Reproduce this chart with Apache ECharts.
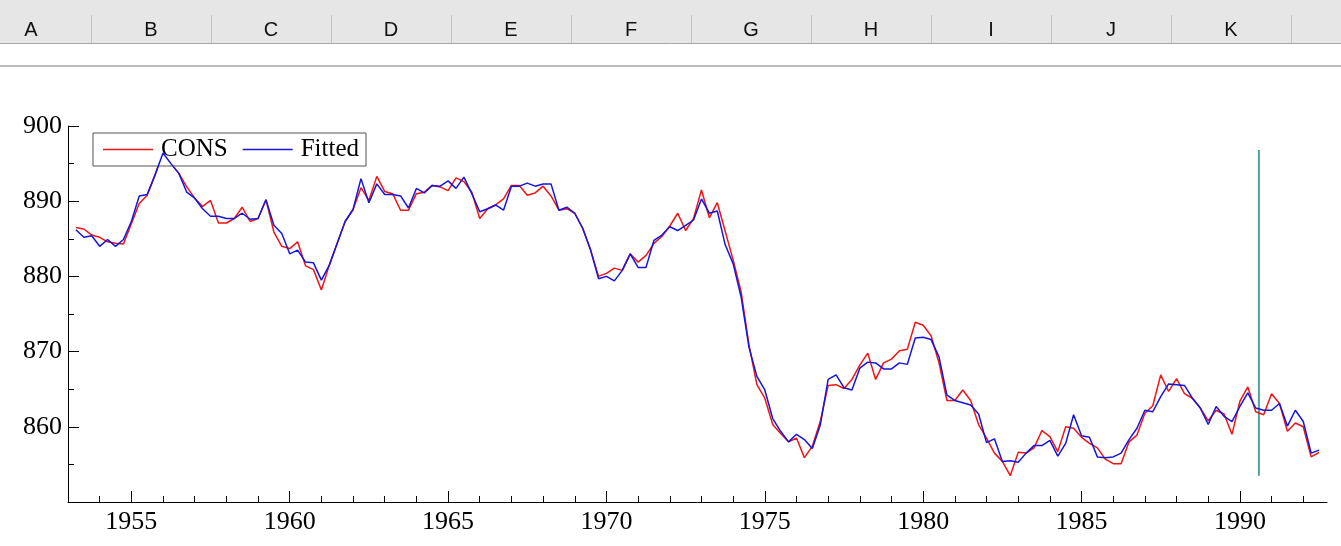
<!DOCTYPE html>
<html>
<head>
<meta charset="utf-8">
<script src="https://cdn.jsdelivr.net/npm/echarts@6/dist/echarts.min.js"></script>
<style>
html,body{margin:0;padding:0;background:#fff;}
#chart{width:1341px;height:546px;}
</style>
</head>
<body>
<div id="chart"></div>
<script>
// Quarterly observations, first quarter plotted at 1953.25, step 0.25 year
const startYear = 1953.25;
const step = 0.25;

const cons = [
886.5,886.3,885.5,885.2,884.6,884.4,884.3,887.0,889.7,890.8,
893.5,896.6,895.0,893.7,891.9,890.4,889.3,890.1,887.1,887.1,
887.7,889.2,887.3,887.7,890.2,885.9,884.0,883.7,884.6,881.4,
880.9,878.2,881.5,884.4,887.3,888.9,891.8,890.1,893.3,891.3,
891.0,888.8,888.8,891.0,891.2,892.1,891.9,891.4,893.1,892.6,
891.2,887.7,889.0,889.5,890.3,892.1,892.1,890.8,891.1,892.0,
890.7,888.8,889.0,888.4,886.4,883.5,880.0,880.4,881.1,880.8,
883.0,881.9,882.8,884.4,885.3,886.7,888.4,886.1,887.7,891.5,
887.8,889.8,886.0,882.2,878.0,870.9,865.6,863.8,860.3,859.1,
858.0,858.5,855.9,857.4,860.7,865.5,865.6,865.1,866.3,868.2,
869.8,866.3,868.5,869.0,870.1,870.3,873.9,873.5,872.1,868.5,
863.5,863.5,864.9,863.5,860.3,858.5,856.5,855.4,853.5,856.6,
856.5,857.2,859.5,858.7,856.7,860.0,859.8,858.6,857.8,857.2,
855.7,855.1,855.1,858.0,858.9,861.8,862.8,866.9,864.7,866.4,
864.4,863.8,862.5,860.8,862.2,861.7,859.0,863.4,865.3,862.0,
861.6,864.4,863.1,859.4,860.5,860.0,856.0,856.6
];

const fitted = [
886.2,885.2,885.4,884.0,884.9,884.0,884.9,887.3,890.7,890.9,
893.5,896.4,895.0,893.7,891.2,890.4,889.0,888.0,888.0,887.7,
887.7,888.4,887.6,887.7,890.2,886.8,885.7,883.0,883.5,881.9,
881.8,879.5,881.5,884.4,887.3,888.9,893.0,889.8,892.3,890.9,
890.9,890.7,889.1,891.7,891.1,892.1,892.0,892.7,891.7,893.2,
891.0,888.6,889.0,889.5,888.8,892.0,892.0,892.4,892.0,892.3,
892.3,888.8,889.2,888.4,886.4,883.5,879.7,880.0,879.4,880.8,
883.0,881.2,881.2,884.8,885.5,886.6,886.1,886.8,887.5,890.3,
888.4,888.7,884.2,881.7,877.3,870.6,866.7,864.9,861.1,859.4,
858.0,859.0,858.3,857.1,860.2,866.3,866.9,865.2,864.9,867.8,
868.6,868.5,867.7,867.7,868.5,868.3,871.8,871.9,871.6,869.3,
864.2,863.5,863.2,862.9,861.7,857.9,858.4,855.4,855.5,855.3,
856.5,857.5,857.5,858.2,856.1,857.8,861.6,858.8,858.6,856.0,
855.9,856.0,856.5,858.3,859.8,862.2,862.0,864.0,865.7,865.6,
865.5,863.8,862.5,860.3,862.7,861.4,860.7,862.7,864.5,862.5,
862.2,862.2,863.1,860.1,862.2,860.7,856.5,856.9
];

// forecast split marker (year, from value, to value)
const splitYear = 1990.6;
const splitRange = [853.5, 896.8];

const xMajorTicks = [1955,1960,1965,1970,1975,1980,1985,1990];
const xMinorTicks = [1954,1955,1956,1957,1958,1959,1960,1961,1962,1963,1964,1965,1966,1967,1968,1969,1970,1971,1972,1973,1974,1975,1976,1977,1978,1979,1980,1981,1982,1983,1984,1985,1986,1987,1988,1989,1990,1991,1992];
const columnLetters = ['A','B','C','D','E','F','G','H','I','J','K'];

const times = cons.map((_, i) => +(startYear + i * step).toFixed(2));
const consData = cons.map((v, i) => [times[i], v]);
const fittedData = fitted.map((v, i) => [times[i], v]);

// spreadsheet header decoration
const header = [
  {type:'rect', shape:{x:0,y:0,width:1341,height:43}, style:{fill:'#e6e6e6'}, silent:true, z:0},
  {type:'line', shape:{x1:0,y1:43.5,x2:1341,y2:43.5}, style:{stroke:'#a8a8a8',lineWidth:1}, silent:true},
  {type:'line', shape:{x1:0,y1:66,x2:1341,y2:66}, style:{stroke:'#bdbdbd',lineWidth:2}, silent:true}
];
for (let i = 0; i < 11; i++) {
  const sx = 91.5 + 120 * i;
  header.push({type:'line', shape:{x1:sx,y1:15,x2:sx,y2:43}, style:{stroke:'#c4c4c4',lineWidth:1}, silent:true});
}
columnLetters.forEach((c, i) => {
  header.push({type:'text', x: 31 + 120 * i, y: 30, style:{text:c, fill:'#111', font:'20px "Liberation Sans", Arial, sans-serif', align:'center', verticalAlign:'middle'}, silent:true});
});

const serif = '"Liberation Serif", "Times New Roman", serif';

const chart = echarts.init(document.getElementById('chart'), null, {renderer:'canvas'});
chart.setOption({
  animation: false,
  backgroundColor: '#fff',
  graphic: header,
  grid: {left: 68, right: 14, top: 126, bottom: 44, containLabel: false},
  legend: {
    data: ['CONS', 'Fitted'],
    left: 93, top: 133,
    orient: 'horizontal',
    icon: 'rect',
    itemWidth: 50, itemHeight: 1.5,
    itemGap: 15,
    padding: [4, 7, 4, 10],
    borderColor: '#555',
    borderWidth: 1,
    backgroundColor: '#fff',
    textStyle: {fontFamily: serif, fontSize: 25, color: '#000', padding: [0, 0, 0, 3]}
  },
  xAxis: [{
    type: 'value', min: 1953, max: 1992.75,
    axisLine: {show: true, lineStyle: {color: '#000', width: 1}},
    axisTick: {show: true, inside: true, length: 11, customValues: xMajorTicks, lineStyle: {color: '#000'}},
    axisLabel: {show: true, customValues: xMajorTicks, margin: 7, fontFamily: serif, fontSize: 26, color: '#000', formatter: v => String(v)},
    splitLine: {show: false}
  }, {
    type: 'value', min: 1953, max: 1992.75, position: 'bottom',
    axisLine: {show: false},
    axisTick: {show: true, inside: true, length: 6, customValues: xMinorTicks, lineStyle: {color: '#000'}},
    axisLabel: {show: false},
    splitLine: {show: false}
  }],
  yAxis: {
    type: 'value', min: 850, max: 900, interval: 10,
    axisLine: {show: true, lineStyle: {color: '#000', width: 1}},
    axisTick: {show: true, inside: true, length: 11, lineStyle: {color: '#000'}},
    minorTick: {show: true, splitNumber: 2, length: 6, lineStyle: {color: '#000'}},
    axisLabel: {show: true, margin: 6, fontFamily: serif, fontSize: 26, color: '#000',
      formatter: v => (v === 850 ? '' : String(v))},
    splitLine: {show: false}
  },
  series: [
    {name: 'CONS', type: 'line', data: consData, showSymbol: false, symbol: 'none',
      lineStyle: {color: '#ee1515', width: 1.5}, itemStyle: {color: '#ee1515'}, z: 3},
    {name: 'Fitted', type: 'line', data: fittedData, showSymbol: false, symbol: 'none',
      lineStyle: {color: '#1515dd', width: 1.5}, itemStyle: {color: '#1515dd'}, z: 4},
    {name: 'split', type: 'line', data: [[splitYear, splitRange[0]], [splitYear, splitRange[1]]],
      showSymbol: false, symbol: 'none', silent: true,
      lineStyle: {color: '#4fa39c', width: 2}, z: 2}
  ]
});
</script>
</body>
</html>
